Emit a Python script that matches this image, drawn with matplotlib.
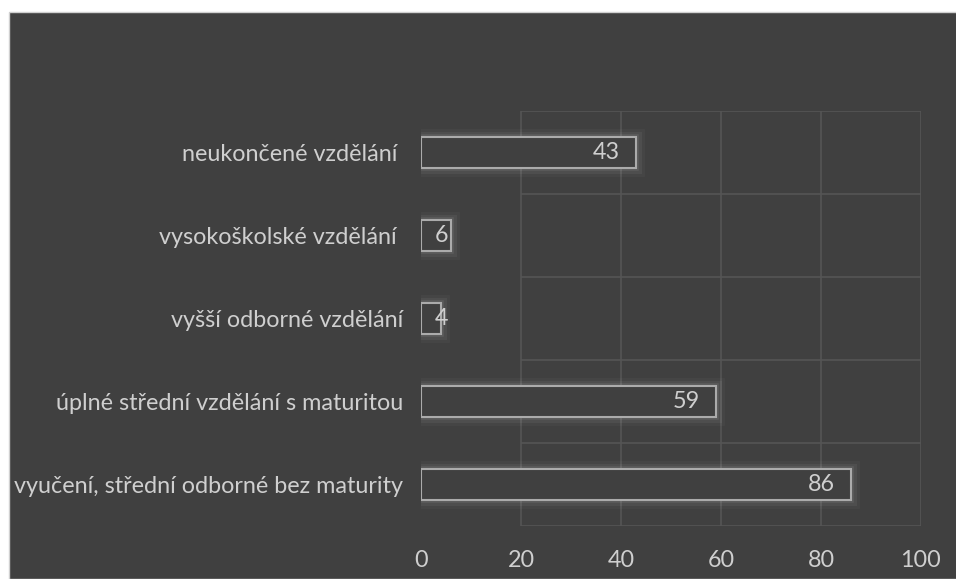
import matplotlib
matplotlib.use("Agg")
import matplotlib.pyplot as plt
import matplotlib.patheffects as pe
from matplotlib.patches import Rectangle

categories = [
    "vyučení, střední odborné bez maturity",
    "úplné střední vzdělání s maturitou",
    "vyšší odborné vzdělání",
    "vysokoškolské vzdělání ",
    "neukončené vzdělání ",
]
counts = [86, 59, 4, 6, 43]
x_ticks = [0, 20, 40, 60, 80, 100]

panel = "#404040"
grid_col = "#555555"
edge_col = "#ababab"
text_col = "#cfcfcf"

plt.rcParams["font.family"] = ["Lato", "DejaVu Sans"]

fig = plt.figure(figsize=(9.56, 5.79), dpi=100, facecolor="white")
fig.patches.append(Rectangle((9 / 956, 0), 1, 1 - 12 / 579, transform=fig.transFigure,
                             facecolor=panel, edgecolor="#d0d0d0", linewidth=1, zorder=-10))

ax = fig.add_axes([421 / 956, 53 / 579, 500 / 956, 415 / 579])
ax.patch.set_alpha(0)

y = list(range(len(categories)))

# grid: vertical lines at the ticks (not at 0), horizontal lines between categories
for xv in x_ticks[1:]:
    ax.axvline(xv, color=grid_col, linewidth=1.2, zorder=0)
for i in range(len(categories) + 1):
    ax.hlines(i - 0.5, x_ticks[1], x_ticks[-1], color=grid_col, linewidth=1.2, zorder=0)

glow = [pe.Stroke(linewidth=12, foreground="white", alpha=0.03),
        pe.Stroke(linewidth=8, foreground="white", alpha=0.05),
        pe.Stroke(linewidth=4, foreground="white", alpha=0.08),
        pe.Normal()]
bars = ax.barh(y, counts, height=0.37, color=panel, edgecolor=edge_col, linewidth=1.5, zorder=3)
for b in bars:
    b.set_path_effects(glow)

for yi, v in zip(y, counts):
    ax.text(max(v - 3.2, 5.4), yi, str(v), ha="right", va="center",
            color=text_col, fontsize=16.8, zorder=4)

ax.set_xlim(0, 100)
ax.set_ylim(-0.5, len(categories) - 0.5)
ax.set_xticks(x_ticks)
ax.set_yticks(y)
ax.set_yticklabels(categories)
ax.tick_params(axis="both", length=0, colors=text_col, labelsize=16.8)
ax.tick_params(axis="y", pad=13)
ax.tick_params(axis="x", pad=17)
for s in ax.spines.values():
    s.set_visible(False)

fig.savefig("out.png", dpi=100, facecolor="white")
